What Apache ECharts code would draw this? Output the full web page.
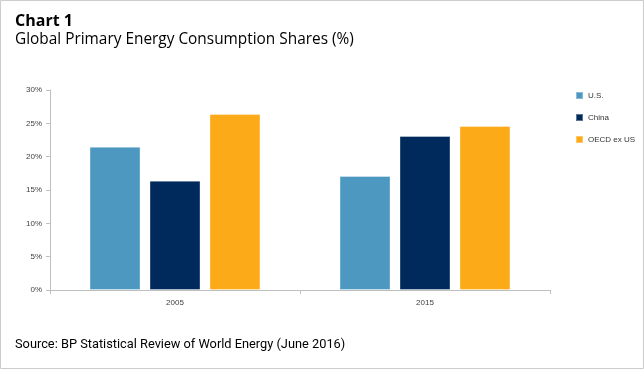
<!DOCTYPE html>
<html>
<head>
<meta charset="utf-8">
<script src="https://cdn.jsdelivr.net/npm/echarts@6/dist/echarts.min.js"></script>
<style>
html,body{margin:0;padding:0;background:#fff;}
#chart{width:644px;height:369px;}
</style>
</head>
<body>
<div id="chart"></div>
<script>
const categories = ['2005', '2015'];
const usShare = [21.5, 17.1];
const chinaShare = [16.4, 23.1];
const oecdExUsShare = [26.4, 24.6];
const seriesNames = ['U.S.', 'China', 'OECD ex US'];
const yTicks = [0, 5, 10, 15, 20, 25, 30];

const chart = echarts.init(document.getElementById('chart'), null, {renderer: 'canvas'});
const colors = ['#4d98c1', '#002a5c', '#fdaa18'];
const barBase = {
  type: 'bar',
  barWidth: 51,
  barGap: '17.6%',
  itemStyle: {borderColor: 'rgba(255,255,255,0.35)', borderWidth: 1},
  emphasis: {disabled: true}
};
chart.setOption({
  animation: false,
  color: colors,
  graphic: [
    {type: 'rect', shape: {x: 0.5, y: 0.5, width: 643, height: 368}, style: {fill: 'none', stroke: '#cccccc', lineWidth: 1}},
    {type: 'text', left: 15, top: 13, style: {text: 'Chart 1', font: 'bold 16px "Open Sans", Roboto, sans-serif', fill: '#000'}},
    {type: 'text', left: 15, top: 32, style: {text: 'Global Primary Energy Consumption Shares (%)', font: '15.4px "Open Sans", Roboto, sans-serif', fill: '#000'}},
    {type: 'text', left: 15, top: 338, style: {text: 'Source: BP Statistical Review of World Energy (June 2016)', font: '12.8px Roboto, "Liberation Sans", sans-serif', fill: '#000'}}
  ],
  legend: {
    orient: 'vertical',
    left: 570,
    top: 86,
    itemWidth: 7,
    itemHeight: 7,
    itemGap: 13,
    icon: 'rect',
    data: seriesNames,
    textStyle: {fontSize: 8, color: '#333', fontFamily: '"Liberation Sans", Arial, sans-serif', padding: [0, 0, 0, 0]}
  },
  grid: {left: 50, right: 94, top: 90, bottom: 79, containLabel: false},
  xAxis: {
    type: 'category',
    data: categories,
    axisLine: {lineStyle: {color: '#bfbfbf', width: 1}},
    axisTick: {show: true, alignWithLabel: false, length: 4, lineStyle: {color: '#bfbfbf'}},
    axisLabel: {fontSize: 8, color: '#404040', margin: 9, fontFamily: '"Liberation Sans", Arial, sans-serif'}
  },
  yAxis: {
    type: 'value',
    min: yTicks[0],
    max: yTicks[yTicks.length - 1],
    interval: 5,
    axisLine: {show: true, lineStyle: {color: '#bfbfbf', width: 1}},
    axisTick: {show: true, length: 4, lineStyle: {color: '#bfbfbf'}},
    splitLine: {show: false},
    axisLabel: {fontSize: 8, color: '#404040', margin: 8, formatter: '{value}%', fontFamily: '"Liberation Sans", Arial, sans-serif'}
  },
  series: [
    Object.assign({}, barBase, {name: seriesNames[0], data: usShare}),
    Object.assign({}, barBase, {name: seriesNames[1], data: chinaShare}),
    Object.assign({}, barBase, {name: seriesNames[2], data: oecdExUsShare})
  ]
});
</script>
</body>
</html>
